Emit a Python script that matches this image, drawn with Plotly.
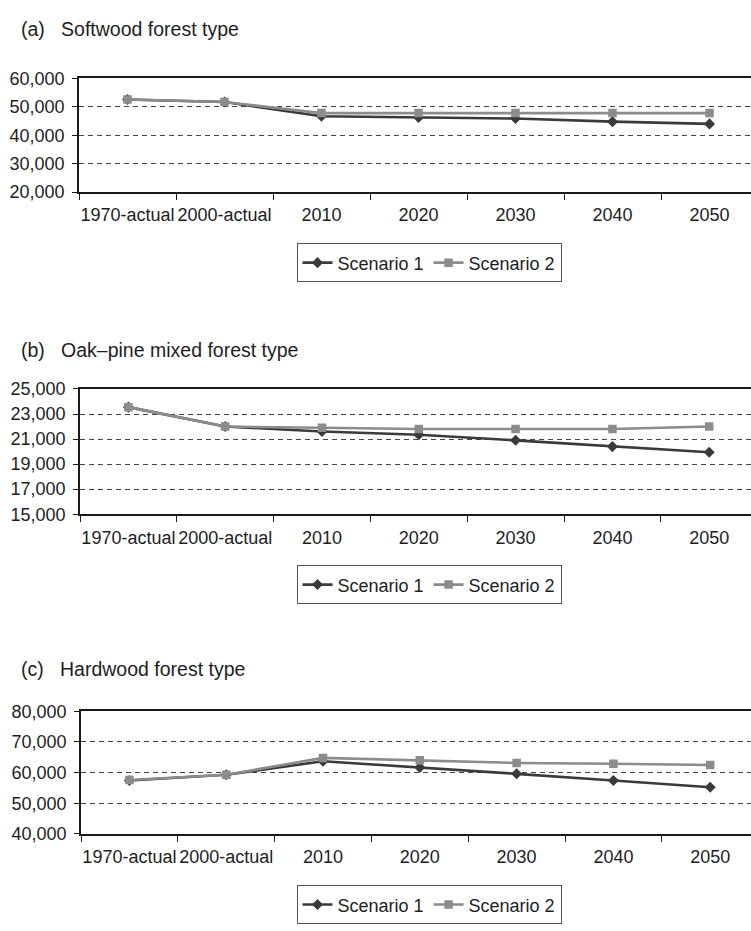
import plotly.graph_objects as go

# Forest area by type under two management scenarios
categories = ["1970-actual", "2000-actual", "2010", "2020", "2030", "2040", "2050"]

softwood_s1 = [52600, 51700, 46700, 46300, 45900, 44800, 44000]
softwood_s2 = [52600, 51700, 47800, 47800, 47800, 47800, 47800]

oakpine_s1 = [23550, 22000, 21600, 21350, 20900, 20400, 19950]
oakpine_s2 = [23550, 22000, 21900, 21800, 21800, 21800, 22000]

hardwood_s1 = [57400, 59300, 63700, 61700, 59600, 57400, 55200]
hardwood_s2 = [57600, 59300, 64800, 64000, 63150, 62900, 62500]

panel_titles = [
    "(a)\u00a0\u00a0 Softwood forest type",
    "(b)\u00a0\u00a0 Oak\u2013pine mixed forest type",
    "(c)\u00a0\u00a0 Hardwood forest type",
]
y_ticks = [
    [20000, 30000, 40000, 50000, 60000],
    [15000, 17000, 19000, 21000, 23000, 25000],
    [40000, 50000, 60000, 70000, 80000],
]
series_names = ["Scenario 1", "Scenario 2"]

W, H = 751, 931
FONT = "Liberation Sans, Arial, sans-serif"
TXT = "#1e1e1e"
S1_COLOR = "#3a3a3a"
S2_COLOR = "#8c8c8c"

# pixel geometry of each panel: (axis x, top y, bottom y, category width, title y, legend centre y)
panels = [
    (79, 70.0, 186.0, 97.0, 19.5, 258.5),
    (80, 387.3, 515.3, 96.8, 347.0, 587.5),
    (81, 716.7, 842.0, 96.8, 673.0, 914.5),
]
data = [
    (softwood_s1, softwood_s2),
    (oakpine_s1, oakpine_s2),
    (hardwood_s1, hardwood_s2),
]

fig = go.Figure()
layout = dict(
    width=W, height=H,
    margin=dict(l=0, r=0, t=0, b=0),
    paper_bgcolor="white", plot_bgcolor="white",
    font=dict(family=FONT, size=18, color=TXT),
    annotations=[],
)

for i, ((x0, top, bot, cw, ty, ly), (s1, s2)) in enumerate(zip(panels, data)):
    n = "" if i == 0 else str(i + 1)
    leg = "legend" + n
    fig.add_trace(go.Scatter(
        x=categories, y=s1, name=series_names[0], mode="lines+markers",
        line=dict(color=S1_COLOR, width=2.6),
        marker=dict(symbol="diamond", size=8.5, color=S1_COLOR),
        xaxis="x" + n, yaxis="y" + n, legend=leg,
    ))
    fig.add_trace(go.Scatter(
        x=categories, y=s2, name=series_names[1], mode="lines+markers",
        line=dict(color=S2_COLOR, width=2.6),
        marker=dict(symbol="square", size=8.5, color=S2_COLOR),
        xaxis="x" + n, yaxis="y" + n, legend=leg,
    ))
    yt = y_ticks[i]
    layout["xaxis" + n] = dict(
        type="category", domain=[x0 / W, 1.0],
        range=[-0.5, -0.5 + (W - x0) / cw],
        anchor="y" + n, showgrid=False,
        showline=True, linecolor="#1a1a1a", linewidth=1.6, mirror=True,
        ticks="outside", tickson="boundaries", ticklen=6, tickwidth=1.4,
        tickcolor="#1a1a1a", ticklabelstandoff=6, tickangle=0,
        tickfont=dict(size=18, color=TXT), fixedrange=True,
    )
    layout["yaxis" + n] = dict(
        domain=[1 - bot / H, 1 - top / H], anchor="x" + n,
        range=[yt[0], yt[-1]], tickvals=yt, tickformat=",",
        showline=True, linecolor="#1a1a1a", linewidth=1.6,
        ticks="outside", ticklen=5, tickwidth=1.4, tickcolor="#1a1a1a",
        ticklabelstandoff=4,
        showgrid=True, gridcolor="#444444", gridwidth=1, griddash="5px,4px",
        zeroline=False, tickfont=dict(size=18, color=TXT), fixedrange=True,
    )
    layout[leg] = dict(
        orientation="h", x=429 / W, xanchor="center",
        y=1 - ly / H, yanchor="middle",
        bordercolor="#555555", borderwidth=1, bgcolor="white",
        font=dict(size=18, color=TXT), itemwidth=30,
        tracegroupgap=0,
    )
    layout["annotations"].append(dict(
        text=panel_titles[i], xref="paper", yref="paper",
        x=19 / W, y=1 - ty / H, xanchor="left", yanchor="middle",
        showarrow=False, font=dict(size=19.5, color=TXT),
    ))

fig.update_layout(**layout)
fig.write_html("out.html")
